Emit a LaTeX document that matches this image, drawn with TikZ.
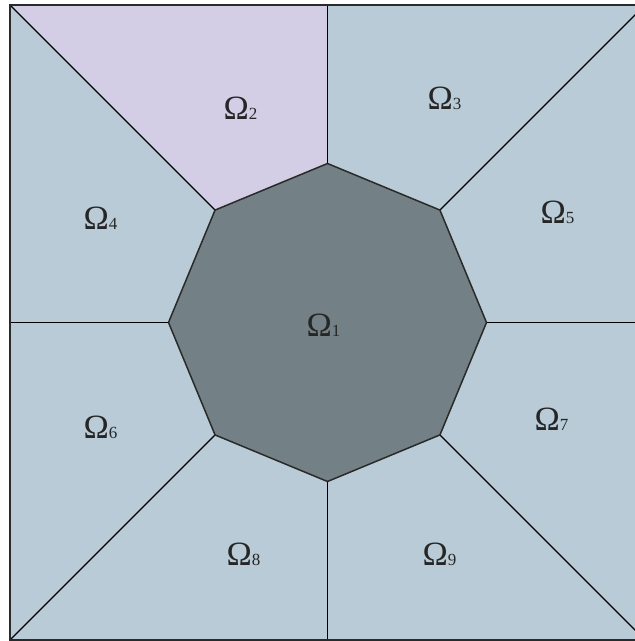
\documentclass[tikz,border=0pt]{standalone}
\usepackage{fontspec}
\setmainfont{Liberation Serif}
\definecolor{regionblue}{HTML}{B8CBD7}
\definecolor{regionlilac}{HTML}{D3CDE6}
\definecolor{coregray}{HTML}{738085}
\definecolor{edgeline}{HTML}{2A2A2A}
\newcommand{\dom}[1]{Ω{\fontsize{17}{17}\selectfont #1}}
\tikzset{
  edge/.style={draw=edgeline, line width=1.5pt, line join=miter},
  spoke/.style={draw=black, line width=1.4pt},
  lab/.style={font=\fontsize{34}{36}\selectfont, text=black!85, inner sep=0pt},
}

\begin{document}
\begin{tikzpicture}[x=1pt, y=1pt]
    \useasboundingbox (-327.5,-318.5) rectangle (307.5,322.5);

    % octagon and outer square
    \foreach \k in {0,...,7} {
      \coordinate (v\k) at (45*\k:159);
    }
    \coordinate (b0) at (317.5,0);
    \coordinate (b1) at (317.5,317.5);
    \coordinate (b2) at (0,317.5);
    \coordinate (b3) at (-317.5,317.5);
    \coordinate (b4) at (-317.5,0);
    \coordinate (b5) at (-317.5,-317.5);
    \coordinate (b6) at (0,-317.5);
    \coordinate (b7) at (317.5,-317.5);

    \fill[regionblue] (b1) -- (b3) -- (b5) -- (b7) -- cycle;
    \fill[regionlilac] (v2) -- (b2) -- (b3) -- (v3) -- cycle;
    \fill[coregray] (v0) \foreach \k in {1,...,7} { -- (v\k) } -- cycle;

    \foreach \k in {0,...,7} {
      \draw[spoke] (v\k) -- (b\k);
    }
    \draw[edge] (v0) \foreach \k in {1,...,7} { -- (v\k) } -- cycle;
    \draw[edge] (b1) -- (b3) -- (b5) -- (b7) -- cycle;

    % labels
    \node[lab] (om1) at (-4,-3) {\dom{1}};
    \node[lab] (om2) at (-87,214) {\dom{2}};
    \node[lab] (om3) at (117,224) {\dom{3}};
    \node[lab] (om4) at (-227,104) {\dom{4}};
    \node[lab] (om5) at (230,110) {\dom{5}};
    \node[lab] (om6) at (-227,-105) {\dom{6}};
    \node[lab] (om7) at (224,-97) {\dom{7}};
    \node[lab] (om8) at (-84,-232) {\dom{8}};
    \node[lab] (om9) at (112,-232) {\dom{9}};
\end{tikzpicture}
\end{document}
